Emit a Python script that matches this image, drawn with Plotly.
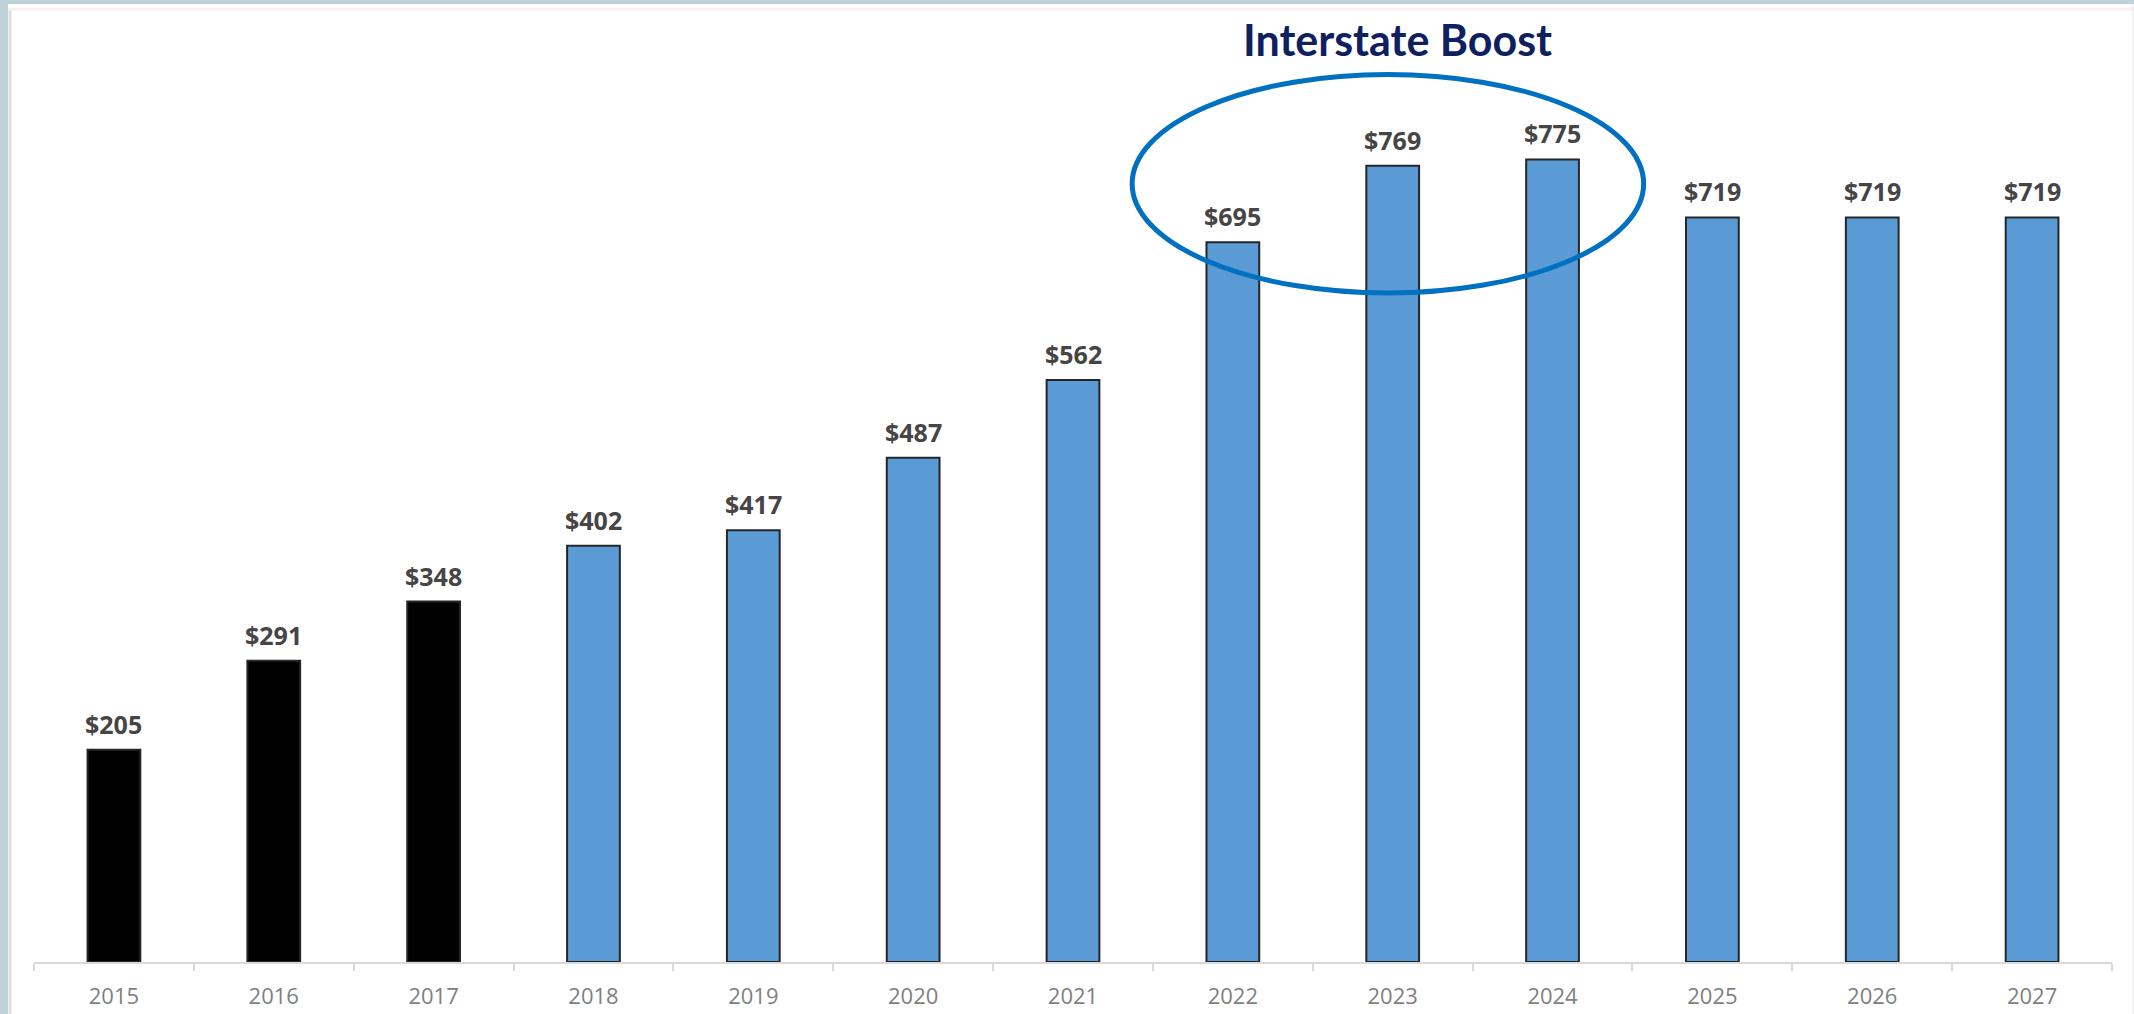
import plotly.graph_objects as go

years = ["2015", "2016", "2017", "2018", "2019", "2020", "2021",
         "2022", "2023", "2024", "2025", "2026", "2027"]
values = [205, 291, 348, 402, 417, 487, 562, 695, 769, 775, 719, 719, 719]
actual_years = ["2015", "2016", "2017"]
labels = ["$" + str(v) for v in values]
title_text = "Interstate Boost"

W, H = 2134, 1014
ML, MR, MT, MB = 34, 22, 60, 52
PW, PH = W - ML - MR, H - MT - MB
YMAX = 871


def px_x(p):
    return (p - ML) / PW


def px_y(p):
    return 1 - (p - MT) / PH


bar_colors = ["#000000" if y in actual_years else "#5b9bd5" for y in years]

fig = go.Figure()
fig.add_trace(go.Bar(
    x=years, y=values,
    marker=dict(color=bar_colors, line=dict(color="#262626", width=2)),
    width=0.33,
    hoverinfo="x+y",
))

for i, (v, t) in enumerate(zip(values, labels)):
    fig.add_annotation(x=i, y=v, text="<b>" + t + "</b>", showarrow=False, yanchor="bottom",
                       yshift=7, font=dict(family="Open Sans", size=25, color="#454545"),
                       xref="x", yref="y")

fig.add_annotation(x=px_x(1397), y=px_y(40), xref="paper", yref="paper",
                   text="<b>" + title_text + "</b>", showarrow=False,
                   xanchor="center", yanchor="middle",
                   font=dict(family="Lato", size=43, color="#0f2060"))

shapes = [
    # page frame
    dict(type="rect", xref="paper", yref="paper", layer="below",
         x0=px_x(0), x1=px_x(W), y0=px_y(0), y1=px_y(H),
         fillcolor="#bdd2d9", line=dict(width=0)),
    dict(type="rect", xref="paper", yref="paper", layer="below",
         x0=px_x(8), x1=px_x(W + 2), y0=px_y(4), y1=px_y(H + 2),
         fillcolor="#ffffff", line=dict(width=0)),
    dict(type="line", xref="paper", yref="paper", layer="below",
         x0=px_x(10), x1=px_x(10), y0=px_y(8), y1=px_y(H),
         line=dict(color="#dedede", width=3)),
    dict(type="line", xref="paper", yref="paper", layer="below",
         x0=px_x(8), x1=px_x(W), y0=px_y(9), y1=px_y(9),
         line=dict(color="#f3f3f3", width=3)),
    dict(type="line", xref="paper", yref="paper", layer="below",
         x0=px_x(2133), x1=px_x(2133), y0=px_y(4), y1=px_y(H),
         line=dict(color="#e6e6e6", width=1)),
    # highlight ellipse
    dict(type="circle", xref="x", yref="y",
         x0=6.37, x1=9.57, y0=646, y1=857,
         line=dict(color="#0070c0", width=5), fillcolor="rgba(0,0,0,0)"),
]

fig.update_layout(
    width=W, height=H,
    margin=dict(l=ML, r=MR, t=MT, b=MB, autoexpand=False),
    paper_bgcolor="#ffffff", plot_bgcolor="rgba(0,0,0,0)",
    showlegend=False, shapes=shapes,
    xaxis=dict(type="category", range=[-0.5, len(years) - 0.5], autorange=False,
               automargin=False,
               showline=True, linecolor="#d9d9d9", linewidth=2,
               ticks="outside", tickson="boundaries", ticklen=7, tickcolor="#d9d9d9",
               tickwidth=2, showgrid=False, zeroline=False, tickangle=0,
               tickfont=dict(family="Open Sans", size=22, color="#7f7f7f"),
               ticklabelstandoff=14),
    yaxis=dict(range=[0, YMAX], autorange=False, visible=False, automargin=False,
               showgrid=False, zeroline=False),
)

fig.write_html("out.html", config={"displayModeBar": False},
               post_script="document.body.style.margin='0';document.body.style.overflow='hidden';")
